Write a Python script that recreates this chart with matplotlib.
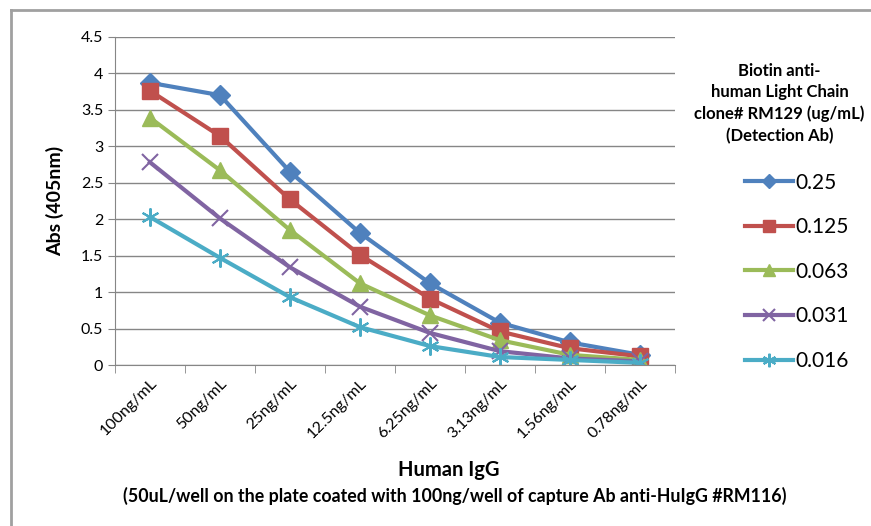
# ELISA titration: Biotin anti-human Light Chain (RM129) detection

import numpy as np
import matplotlib.pyplot as plt
from matplotlib.lines import Line2D

plt.rcParams['font.family'] = ['Lato', 'DejaVu Sans']

categories = ['100ng/mL', '50ng/mL', '25ng/mL', '12.5ng/mL', '6.25ng/mL',
              '3.13ng/mL', '1.56ng/mL', '0.78ng/mL']
series_names = ['0.25', '0.125', '0.063', '0.031', '0.016']
abs_025 = [3.87, 3.70, 2.65, 1.81, 1.12, 0.58, 0.31, 0.14]
abs_0125 = [3.76, 3.14, 2.27, 1.51, 0.91, 0.46, 0.23, 0.12]
abs_0063 = [3.39, 2.67, 1.85, 1.12, 0.68, 0.34, 0.14, 0.07]
abs_0031 = [2.78, 2.01, 1.34, 0.80, 0.44, 0.19, 0.09, 0.05]
abs_0016 = [2.03, 1.47, 0.93, 0.52, 0.26, 0.11, 0.07, 0.03]
y_ticks = [0, 0.5, 1, 1.5, 2, 2.5, 3, 3.5, 4, 4.5]

colors = ['#4F81BD', '#C0504D', '#9BBB59', '#8064A2', '#4BACC6']
markers = ['D', 's', '^', 'x', (6, 2, 0)]
sizes = [10, 11, 11, 12, 13]

fig = plt.figure(figsize=(8.71, 5.26), dpi=100)
ax = fig.add_axes([0.132, 0.306, 0.643, 0.624])

x = np.arange(len(categories))
for vals, name, c, m, s in zip([abs_025, abs_0125, abs_0063, abs_0031, abs_0016],
                               series_names, colors, markers, sizes):
    mew = 1.5 if m in ('x', (6, 2, 0)) else 1
    ax.plot(x, vals, color=c, lw=3, marker=m, markersize=s,
            markeredgewidth=mew, markeredgecolor=c, label=name)

ax.set_xlim(-0.5, len(categories) - 0.5)
ax.set_ylim(0, 4.5)
ax.set_yticks(y_ticks)
ax.set_yticklabels([f'{v:g}' for v in y_ticks], fontsize=11.5)
ax.set_xticks(x)
ax.set_xticklabels(categories, rotation=45, ha='right', rotation_mode='anchor', fontsize=11.5)
ax.tick_params(axis='x', length=0, pad=8)
ax.set_xticks(np.arange(-0.5, len(categories)), minor=True)
ax.tick_params(axis='x', which='minor', length=6, color='#868686')
ax.tick_params(axis='y', length=5, color='#868686')
ax.grid(axis='y', color='#868686', lw=1)
ax.set_axisbelow(True)
for sp in ['top', 'right']:
    ax.spines[sp].set_visible(False)
for sp in ['left', 'bottom']:
    ax.spines[sp].set_color('#868686')

ax.set_ylabel('Abs (405nm)', fontsize=14, fontweight='bold', labelpad=12)
fig.text(0.515, 0.106, 'Human IgG', fontsize=14.5, fontweight='bold', ha='center', va='center')
fig.text(0.522, 0.057, '(50uL/well on the plate coated with 100ng/well of capture Ab anti-HuIgG #RM116)',
         fontsize=12.8, fontweight='bold', ha='center', va='center')

leg = ax.legend(loc='upper left', bbox_to_anchor=(0.855, 0.672), bbox_transform=fig.transFigure,
                frameon=False, fontsize=15, handlelength=2.3, labelspacing=1.18,
                handletextpad=0.15, borderpad=0, borderaxespad=0, markerscale=0.75)
fig.text(0.895, 0.88, 'Biotin anti-\nhuman Light Chain\nclone# RM129 (ug/mL)\n(Detection Ab)',
         fontsize=12, fontweight='bold', ha='center', va='top', linespacing=1.4)

# chart frame
fig.add_artist(Line2D([0.013, 0.013], [0, 0.981], color='#A0A0A0', lw=2))
fig.add_artist(Line2D([0.013, 1], [0.981, 0.981], color='#A0A0A0', lw=2))

plt.savefig('out.png', dpi=100)
